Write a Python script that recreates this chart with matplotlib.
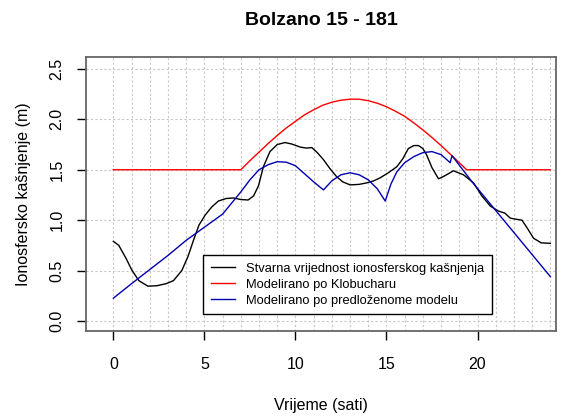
import matplotlib
matplotlib.use("Agg")
import matplotlib.pyplot as plt
import numpy as np

plt.rcParams['font.family'] = ['Liberation Sans', 'DejaVu Sans']

# stvarno kasnjenje (mjereno)
t_stv = [0, 0.3, 0.7, 1.0, 1.4, 1.9, 2.4, 2.9, 3.3, 3.76, 4.1, 4.4, 4.7, 5.04, 5.4,
         5.77, 6.2, 6.6, 7.0, 7.4, 7.7, 7.97, 8.24, 8.6, 9.0, 9.43, 9.8, 10.26, 10.6,
         10.9, 11.2, 11.54, 11.9, 12.27, 12.6, 13.0, 13.5, 13.92, 14.3, 14.65, 15.1,
         15.57, 15.9, 16.2, 16.5, 16.76, 17.0, 17.2, 17.5, 17.86, 18.2, 18.68, 19.23,
         19.78, 20.24, 20.7, 21.15, 21.5, 21.8, 22.1, 22.44, 22.7, 23.08, 23.5, 24.0]
d_stv = [0.79, 0.75, 0.62, 0.51, 0.40, 0.345, 0.35, 0.37, 0.40, 0.50, 0.64, 0.80, 0.95,
         1.05, 1.13, 1.19, 1.215, 1.22, 1.205, 1.20, 1.24, 1.34, 1.53, 1.68, 1.75, 1.77,
         1.755, 1.725, 1.715, 1.72, 1.67, 1.60, 1.51, 1.43, 1.38, 1.35, 1.355, 1.37, 1.39,
         1.42, 1.47, 1.53, 1.61, 1.71, 1.74, 1.74, 1.71, 1.65, 1.52, 1.41, 1.44, 1.49,
         1.45, 1.37, 1.24, 1.14, 1.09, 1.07, 1.02, 1.01, 1.00, 0.93, 0.82, 0.775, 0.77]

# Klobuchar
t_klob = [0, 7.0, 7.5, 8.0, 8.5, 9.0, 9.5, 10.0, 10.5, 11.0, 11.5, 12.0, 12.5, 13.0,
          13.5, 14.0, 14.5, 15.0, 15.5, 16.0, 16.5, 17.0, 17.5, 18.0, 18.5, 19.0,
          19.4, 24.0]
d_klob = [1.5, 1.5, 1.59, 1.675, 1.76, 1.84, 1.915, 1.98, 2.045, 2.095, 2.14, 2.17,
          2.19, 2.20, 2.20, 2.185, 2.16, 2.125, 2.08, 2.03, 1.965, 1.895, 1.82, 1.74,
          1.655, 1.57, 1.5, 1.5]

# predlozeni model
t_mod = [0, 1.0, 2.0, 3.0, 4.0, 5.0, 6.0, 7.0, 7.5, 8.0, 8.5, 9.0, 9.5, 10.0, 10.5,
         11.0, 11.54, 12.0, 12.5, 13.0, 13.5, 14.0, 14.5, 14.93, 15.25, 15.57, 16.0,
         16.5, 17.0, 17.5, 18.0, 18.5, 18.6, 19.0, 19.7, 24.0]
d_mod = [0.226, 0.37, 0.51, 0.65, 0.80, 0.93, 1.06, 1.28, 1.40, 1.50, 1.55, 1.58, 1.575,
         1.54, 1.46, 1.38, 1.30, 1.39, 1.45, 1.47, 1.45, 1.40, 1.31, 1.19, 1.36, 1.48,
         1.57, 1.63, 1.67, 1.68, 1.65, 1.57, 1.64, 1.545, 1.38, 0.44]

x_ticks = [0, 5, 10, 15, 20]
y_ticks = [0.0, 0.5, 1.0, 1.5, 2.0, 2.5]

fig = plt.figure(figsize=(5.66, 4.18), dpi=100)
ax = fig.add_axes([0.152, 0.208, 0.830, 0.656])

ax.plot(t_stv, d_stv, color='black', lw=1.0, label='Stvarna vrijednost ionosferskog kašnjenja')
ax.plot(t_klob, d_klob, color='#ff0000', lw=1.0, label='Modelirano po Klobucharu')
ax.plot(t_mod, d_mod, color='#0000b0', lw=1.0, label='Modelirano po predloženome modelu')

ax.set_xlim(-1.5, 24.3)
ax.set_ylim(-0.1, 2.62)
ax.set_xticks(x_ticks)
ax.set_xticks(np.arange(0, 25), minor=True)
ax.set_yticks(y_ticks)
ax.set_yticklabels([f'{v:.1f}' for v in y_ticks], rotation=90, va='center')

ax.grid(which='both', axis='x', color='#c8c8c8', lw=0.8, linestyle=(0, (2, 2)))
ax.grid(which='major', axis='y', color='#c8c8c8', lw=0.8, linestyle=(0, (2, 2)))
ax.set_axisbelow(True)

ax.tick_params(which='major', length=6.5, width=1, color='black', labelsize=11.5)
ax.tick_params(axis='x', which='major', pad=12)
ax.tick_params(axis='y', which='major', pad=9)
ax.tick_params(which='minor', length=0)
for s in ax.spines.values():
    s.set_color('#666666')
    s.set_linewidth(1.3)

ax.set_title('Bolzano 15 - 181', fontsize=14, fontweight='bold', pad=23)
ax.set_xlabel('Vrijeme (sati)', fontsize=11.5, labelpad=19)
ax.set_ylabel('Ionosfersko kašnjenje (m)', fontsize=11.5, labelpad=13)

leg = ax.legend(loc='upper left', bbox_to_anchor=(203 / 566, 1 - 255 / 418),
                bbox_transform=fig.transFigure, fontsize=9.3, fancybox=False,
                framealpha=1, edgecolor='black', borderaxespad=0, handlelength=1.9,
                handletextpad=0.85, labelspacing=0.3, borderpad=0.6)
leg.get_frame().set_linewidth(1.0)

fig.savefig('out.png', dpi=100)
